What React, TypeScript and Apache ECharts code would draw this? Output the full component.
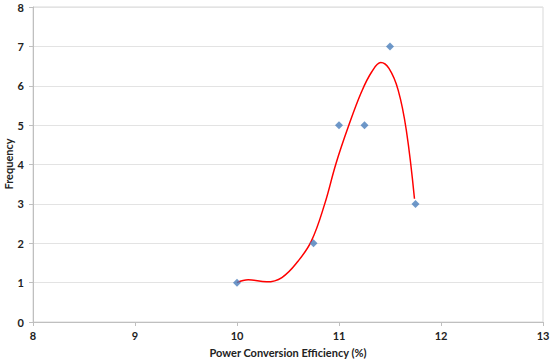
import React, { useEffect, useRef } from "react";
import * as echarts from "echarts";

const pointX = [10, 10.75, 11, 11.25, 11.5, 11.75];
const pointY = [1, 2, 5, 5, 7, 3];

const curveX = [10.0, 10.11, 10.29, 10.44, 10.6, 10.73, 10.86, 10.97, 11.09, 11.22, 11.32, 11.41, 11.49, 11.58, 11.66, 11.74];
const curveY = [1.0, 1.07, 1.02, 1.13, 1.55, 2.06, 3.0, 4.02, 4.95, 5.84, 6.35, 6.59, 6.44, 5.89, 4.87, 3.13];

const xTitle = "Power Conversion Efficiency (%)";
const yTitle = "Frequency";

export default function App() {
  const ref = useRef<HTMLDivElement>(null);
  useEffect(() => {
    document.body.style.margin = "0";
    const chart = echarts.init(ref.current!, undefined, { renderer: "svg" });
    const font = "Lato, 'Open Sans', sans-serif";
    chart.setOption({
      animation: false,
      backgroundColor: "#ffffff",
      grid: {
        left: 33,
        right: 7,
        top: 7,
        bottom: 37,
        containLabel: false,
        outerBoundsMode: "none",
        show: true,
        borderColor: "#d9d9d9",
        borderWidth: 1,
      },
      graphic: [
        {
          type: "text",
          x: 8,
          y: 164,
          rotation: Math.PI / 2,
          style: {
            text: yTitle,
            fontFamily: font,
            fontSize: 11,
            fontWeight: "bold",
            fill: "#222",
            align: "center",
            verticalAlign: "middle",
          },
        },
      ],
      xAxis: {
        type: "value",
        min: 8,
        max: 13,
        interval: 1,
        name: xTitle,
        nameLocation: "middle",
        nameGap: 25,
        nameTextStyle: { fontFamily: font, fontSize: 11, fontWeight: "bold", color: "#222" },
        axisLine: { show: true, onZero: false, lineStyle: { color: "#bfbfbf", width: 1 } },
        axisTick: { show: true, length: 4, lineStyle: { color: "#bfbfbf" } },
        axisLabel: { fontFamily: font, fontSize: 11, fontWeight: "bold", color: "#222", margin: 8 },
        splitLine: { show: false },
      },
      yAxis: {
        type: "value",
        min: 0,
        max: 8,
        interval: 1,
        axisLine: { show: true, onZero: false, lineStyle: { color: "#bfbfbf", width: 1 } },
        axisTick: { show: true, length: 4, lineStyle: { color: "#bfbfbf" } },
        axisLabel: { fontFamily: font, fontSize: 11, fontWeight: "bold", color: "#222", margin: 9 },
        splitLine: { show: true, lineStyle: { color: "#e3e3e3", width: 1 } },
      },
      series: [
        {
          type: "line",
          data: curveX.map((x, i) => [x, curveY[i]]),
          smooth: 0.4,
          showSymbol: false,
          symbol: "none",
          lineStyle: { color: "#ff0000", width: 1.5 },
          z: 2,
        },
        {
          type: "scatter",
          data: pointX.map((x, i) => [x, pointY[i]]),
          symbol: "diamond",
          symbolSize: 8,
          itemStyle: { color: "#4a7ebb" },
          z: 3,
        },
      ],
    });
    return () => chart.dispose();
  }, []);
  return <div ref={ref} style={{ width: 550, height: 359 }} />;
}
